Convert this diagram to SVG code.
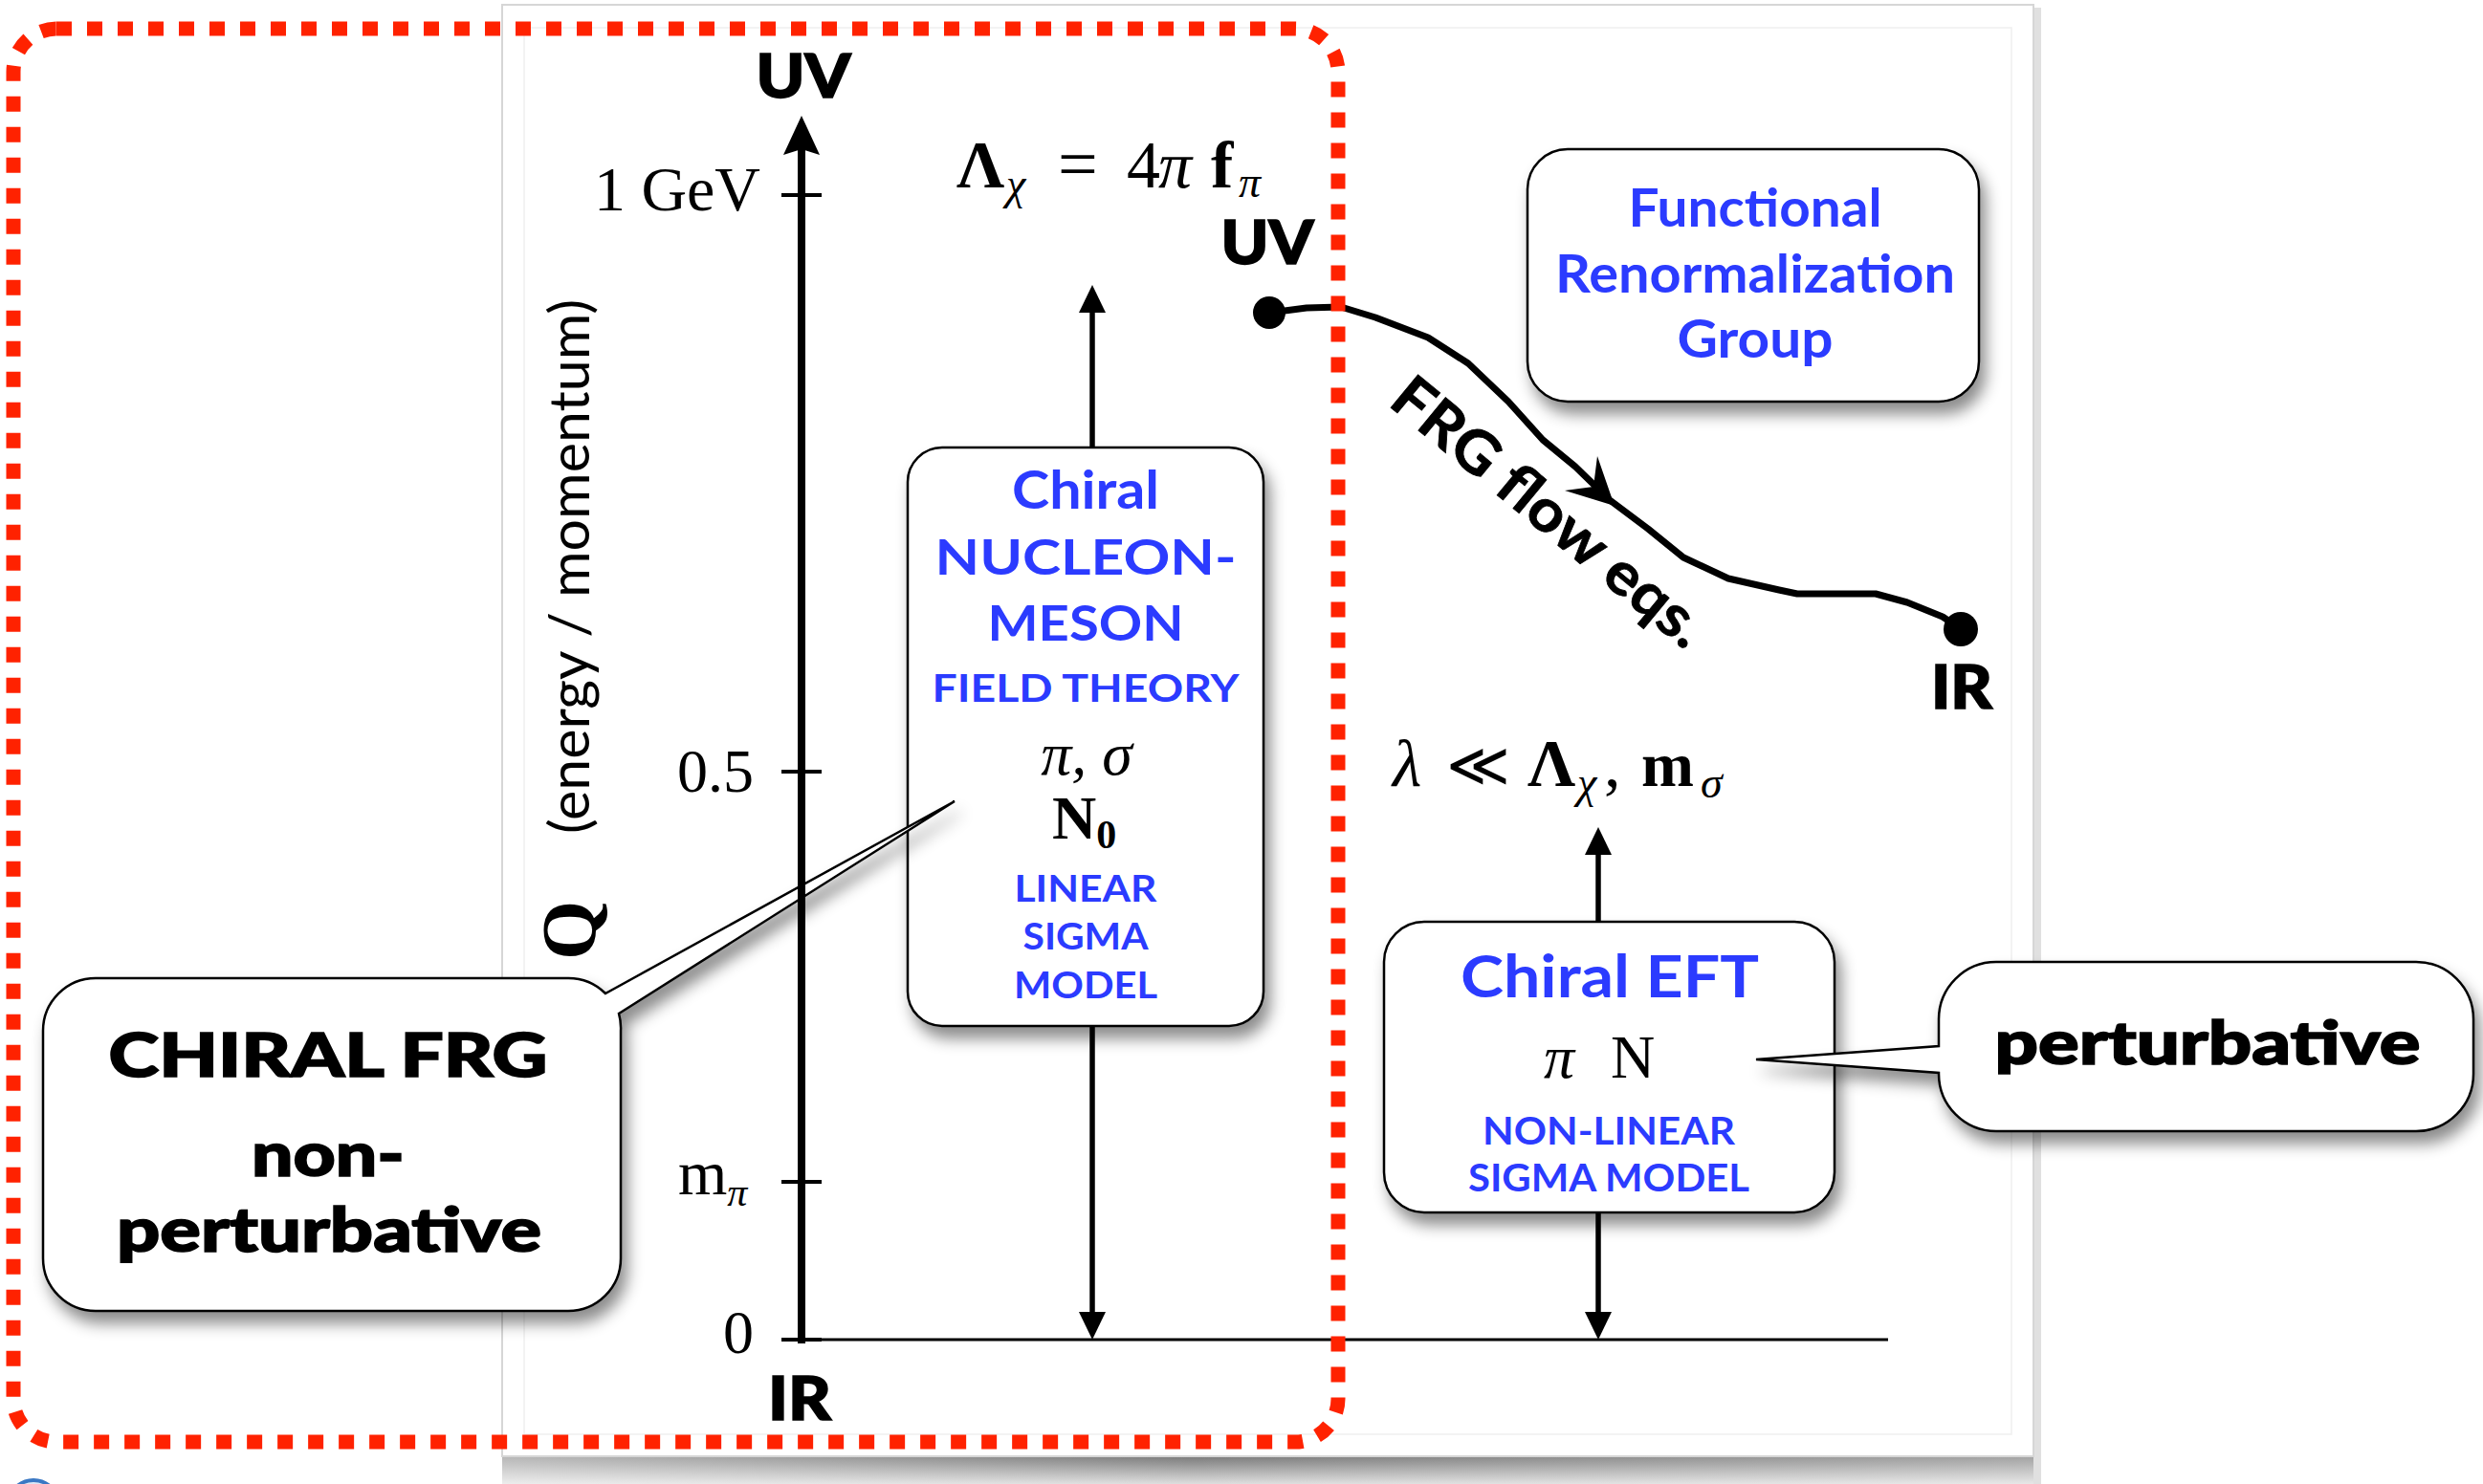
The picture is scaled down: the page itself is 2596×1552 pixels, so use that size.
<svg xmlns="http://www.w3.org/2000/svg" width="2596" height="1552" viewBox="0 0 2596 1552">
<style>
  .blue { fill:#2b3bff; font-family:Lato, "Open Sans", "Liberation Sans", sans-serif; font-weight:700; text-anchor:middle; }
  .heavy { fill:#000; stroke:#000; stroke-width:1.6; font-family:Lato, "Open Sans", "Liberation Sans", sans-serif; font-weight:900; text-anchor:middle; }
  .math { fill:#000; font-family:"Liberation Serif", "DejaVu Serif", serif; }
  .box { fill:#fff; stroke:#000; stroke-width:2.5; }
  .ln { stroke:#000; fill:none; }
  .ah { fill:#000; }
</style>
<defs>
  <filter id="sh" x="-20%" y="-20%" width="150%" height="160%">
    <feDropShadow dx="6" dy="12" stdDeviation="8" flood-color="#000" flood-opacity="0.45"/>
  </filter>
  <linearGradient id="pshadow" x1="0" y1="0" x2="0" y2="1">
    <stop offset="0" stop-color="#7a7a7a"/>
    <stop offset="1" stop-color="#dedede"/>
  </linearGradient>
  <linearGradient id="pshadowH" x1="0" y1="0" x2="1" y2="0">
    <stop offset="0" stop-color="#fff" stop-opacity="0.45"/>
    <stop offset="0.45" stop-color="#fff" stop-opacity="0"/>
    <stop offset="1" stop-color="#fff" stop-opacity="0.3"/>
  </linearGradient>
</defs>

<rect width="2596" height="1552" fill="#fff"/>

<!-- slide panel -->
<g id="panel">
  <rect x="525" y="1523" width="1601" height="29" fill="url(#pshadow)"/>
  <rect x="525" y="1523" width="1601" height="29" fill="url(#pshadowH)"/>
  <rect x="2126" y="8" width="8" height="1544" fill="#e0e0e0"/>
  <rect x="525" y="5" width="1601" height="1518" fill="#fff" stroke="#d6d6d6" stroke-width="2"/>
  <rect x="548" y="29" width="1555" height="1471" fill="none" stroke="#efefef" stroke-width="1.5"/>
</g>

<!-- partial logo at bottom-left -->
<ellipse cx="35" cy="1578" rx="28" ry="30" fill="#dce8f6" stroke="#3a78c4" stroke-width="4"/>

<!-- nodes -->
<g id="frg-box">
  <rect class="box" x="1597" y="156" width="472" height="264" rx="42" filter="url(#sh)"/>
  <text class="blue" x="1835" y="237" font-size="56" textLength="265" lengthAdjust="spacingAndGlyphs">Functional</text>
  <text class="blue" x="1835" y="306" font-size="56" textLength="418" lengthAdjust="spacingAndGlyphs">Renormalization</text>
  <text class="blue" x="1835" y="374" font-size="56" textLength="163" lengthAdjust="spacingAndGlyphs">Group</text>
</g>

<g id="nucleon-box">
  <rect class="box" x="949" y="468" width="372" height="605" rx="36" filter="url(#sh)"/>
  <text class="blue" x="1135" y="532" font-size="55" textLength="154" lengthAdjust="spacingAndGlyphs">Chiral</text>
  <text class="blue" x="1135" y="601" font-size="52" textLength="315" lengthAdjust="spacingAndGlyphs">NUCLEON-</text>
  <text class="blue" x="1135" y="670" font-size="52" textLength="205" lengthAdjust="spacingAndGlyphs">MESON</text>
  <text class="blue" x="1135" y="734" font-size="40" textLength="321" lengthAdjust="spacingAndGlyphs">FIELD THEORY</text>
  <text class="math" x="1136" y="810" font-size="64" text-anchor="middle" font-style="italic">π, σ</text>
  <text class="math" x="1100" y="877" font-size="64" font-weight="700">N<tspan font-size="42" dy="10">0</tspan></text>
  <text class="blue" x="1135" y="943" font-size="38" textLength="149" lengthAdjust="spacingAndGlyphs">LINEAR</text>
  <text class="blue" x="1135" y="993" font-size="38" textLength="131" lengthAdjust="spacingAndGlyphs">SIGMA</text>
  <text class="blue" x="1135" y="1044" font-size="38" textLength="150" lengthAdjust="spacingAndGlyphs">MODEL</text>
</g>

<g id="eft-box">
  <rect class="box" x="1447" y="964" width="471" height="304" rx="42" filter="url(#sh)"/>
  <text class="blue" x="1683" y="1043" font-size="62" textLength="312" lengthAdjust="spacingAndGlyphs">Chiral EFT</text>
  <text class="math" x="1614" y="1127" font-size="64" font-style="italic">π</text>
  <text class="math" x="1684" y="1127" font-size="64">N</text>
  <text class="blue" x="1682" y="1197" font-size="40" textLength="264" lengthAdjust="spacingAndGlyphs">NON-LINEAR</text>
  <text class="blue" x="1682" y="1246" font-size="40" textLength="294" lengthAdjust="spacingAndGlyphs">SIGMA MODEL</text>
</g>

<g id="callout-chiral-frg">
  <path class="box" filter="url(#sh)" d="M 100,1023 H 594 A 55 55 0 0 1 633,1039 L 998,838 L 647,1060 A 55 55 0 0 1 649,1078 V 1316 A 55 55 0 0 1 594,1371 H 100 A 55 55 0 0 1 45,1316 V 1078 A 55 55 0 0 1 100,1023 Z"/>
  <text class="heavy" x="343" y="1126" font-size="62" textLength="459" lengthAdjust="spacingAndGlyphs">CHIRAL FRG</text>
  <text class="heavy" x="343" y="1230" font-size="64" textLength="160" lengthAdjust="spacingAndGlyphs">non-</text>
  <text class="heavy" x="344" y="1309" font-size="64" textLength="444" lengthAdjust="spacingAndGlyphs">perturbative</text>
</g>

<g id="callout-perturbative">
  <path class="box" filter="url(#sh)" d="M 2087,1006 H 2526 A 60 60 0 0 1 2586,1066 V 1123 A 60 60 0 0 1 2526,1183 H 2087 A 60 60 0 0 1 2027,1123 V 1122 L 1836,1108 L 2027,1094 V 1066 A 60 60 0 0 1 2087,1006 Z"/>
  <text class="heavy" x="2308" y="1113" font-size="62" textLength="445" lengthAdjust="spacingAndGlyphs">perturbative</text>
</g>

<!-- labels -->
<g id="labels">
  <text class="heavy" x="840" y="102" font-size="62" textLength="99" lengthAdjust="spacingAndGlyphs">UV</text>
  <text class="heavy" x="836" y="1485" font-size="62" textLength="66" lengthAdjust="spacingAndGlyphs">IR</text>
  <text class="heavy" x="1325" y="276" font-size="62" textLength="97" lengthAdjust="spacingAndGlyphs">UV</text>
  <text class="heavy" x="2051" y="741" font-size="62" textLength="64" lengthAdjust="spacingAndGlyphs">IR</text>

  <text class="math" x="795" y="220" font-size="66" text-anchor="end">1 GeV</text>
  <text class="math" x="788" y="828" font-size="64" text-anchor="end">0.5</text>
  <text class="math" x="709" y="1249" font-size="66">m<tspan font-size="42" font-style="italic" dy="12">π</tspan></text>
  <text class="math" x="788" y="1415" font-size="64" text-anchor="end">0</text>

  <text class="math" transform="translate(622,1004) rotate(-90)" font-size="80" font-weight="700">Q</text>
  <text transform="translate(616,872) rotate(-90)" font-family="Lato, 'Open Sans', sans-serif" font-size="58" textLength="559" lengthAdjust="spacingAndGlyphs">(energy / momentum)</text>

  <!-- Lambda_chi = 4 pi f_pi -->
  <text class="math" x="1000" y="196" font-size="70" font-weight="700">Λ</text>
  <text class="math" x="1052" y="208" font-size="46" font-style="italic">χ</text>
  <text class="math" x="1106" y="196" font-size="74">=</text>
  <text class="math" x="1178" y="196" font-size="70">4</text>
  <text class="math" x="1211" y="196" font-size="70" font-style="italic">π</text>
  <text class="math" x="1266" y="196" font-size="70" font-weight="700">f</text>
  <text class="math" x="1295" y="206" font-size="46" font-style="italic">π</text>

  <!-- lambda << Lambda_chi, m_sigma -->
  <text class="math" x="1456" y="822" font-size="70" font-style="italic">λ</text>
  <text class="math" x="1512" y="822" font-size="64">≪</text>
  <text class="math" x="1597" y="822" font-size="70" font-weight="700">Λ</text>
  <text class="math" x="1649" y="834" font-size="46" font-style="italic">χ</text>
  <text class="math" x="1677" y="822" font-size="70">,</text>
  <text class="math" x="1716" y="822" font-size="66" font-weight="700">m</text>
  <text class="math" x="1778" y="834" font-size="46" font-style="italic">σ</text>

  <text transform="translate(1450,423) rotate(39.5)" font-family="Lato, 'Open Sans', sans-serif" font-weight="700" font-size="62" stroke="#000" stroke-width="0.8" textLength="405" lengthAdjust="spacingAndGlyphs">FRG flow eqs.</text>
</g>

<!-- connectors -->
<g id="connectors">
  <!-- main axis -->
  <line class="ln" x1="838" y1="1405" x2="838" y2="150" stroke-width="8"/>
  <polygon class="ah" points="838,121 819,162 838,156 857,162"/>
  <line class="ln" x1="817" y1="204" x2="859" y2="204" stroke-width="4"/>
  <line class="ln" x1="817" y1="807" x2="859" y2="807" stroke-width="4"/>
  <line class="ln" x1="817" y1="1236" x2="859" y2="1236" stroke-width="4"/>
  <line class="ln" x1="817" y1="1401" x2="859" y2="1401" stroke-width="4"/>
  <line class="ln" x1="838" y1="1401" x2="1974" y2="1401" stroke-width="3"/>

  <!-- nucleon box arrows -->
  <line class="ln" x1="1142" y1="468" x2="1142" y2="320" stroke-width="5.5"/>
  <polygon class="ah" points="1142,298 1128,327 1156,327"/>
  <line class="ln" x1="1142" y1="1073" x2="1142" y2="1380" stroke-width="5.5"/>
  <polygon class="ah" points="1142,1401 1128,1372 1156,1372"/>

  <!-- EFT box arrows -->
  <line class="ln" x1="1671" y1="964" x2="1671" y2="888" stroke-width="5.5"/>
  <polygon class="ah" points="1671,865 1657,894 1685,894"/>
  <line class="ln" x1="1671" y1="1268" x2="1671" y2="1380" stroke-width="5.5"/>
  <polygon class="ah" points="1671,1401 1657,1372 1685,1372"/>

  <!-- FRG flow curve -->
  <path class="ln" stroke-width="7" stroke-linejoin="round" stroke-linecap="round"
        d="M 1327,327 L 1343,325 L 1366,322 L 1402,321 L 1438,332 L 1493,353 L 1535,380 L 1577,420 L 1613,460 L 1647,488 L 1683,523 L 1723,553 L 1760,583 L 1807,605 L 1860,617 L 1879,621 L 1961,621 L 1994,630 L 2031,645 L 2050,658"/>
  <polygon class="ah" points="1688,529 1670,477 1666,509 1636,513"/>
  <circle cx="1327" cy="327" r="17" fill="#000"/>
  <circle cx="2050" cy="658" r="18" fill="#000"/>
</g>

<!-- red dotted highlight -->
<rect x="14" y="30" width="1385" height="1478" rx="45" fill="none" stroke="#ff2200" stroke-width="15" stroke-dasharray="16 16"/>
</svg>
